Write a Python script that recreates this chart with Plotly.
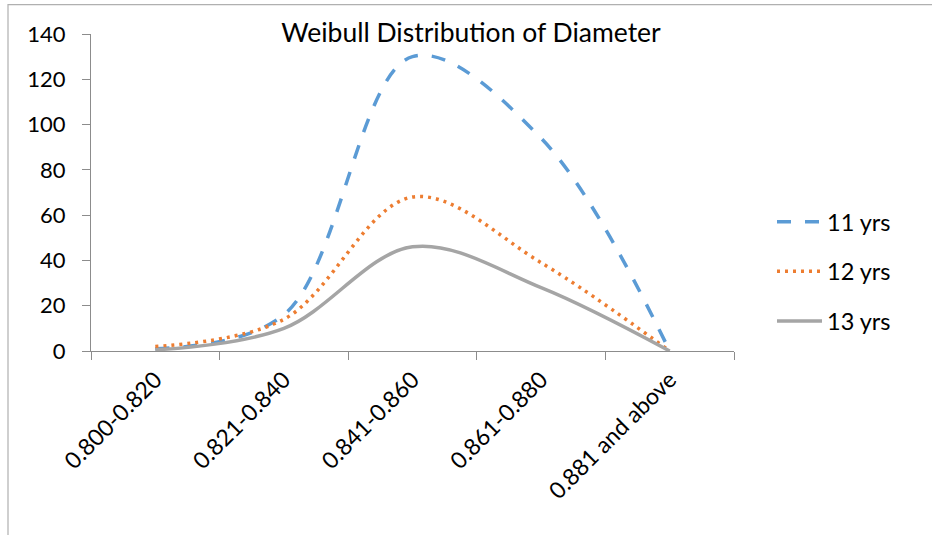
import plotly.graph_objects as go

categories = ["0.800-0.820", "0.821-0.840", "0.841-0.860", "0.861-0.880", "0.881 and above"]
series_names = ["11 yrs", "12 yrs", "13 yrs"]
yrs11 = [1, 16, 130, 94, 0]
yrs12 = [2, 14, 68, 39, 0]
yrs13 = [0.5, 10, 46, 28, 0]
y_ticks = [0, 20, 40, 60, 80, 100, 120, 140]

colors = ["#5B9BD5", "#ED7D31", "#A5A5A5"]
dashes = ["14px,14px", "3px,5px", "solid"]
FONT = "Lato"

W, H = 932, 535
L, R, T, B = 91, 734, 34, 351.5

fig = go.Figure()
for i, (name, vals) in enumerate(zip(series_names, [yrs11, yrs12, yrs13])):
    fig.add_trace(go.Scatter(
        x=categories, y=vals, name=name, mode="lines",
        line=dict(color=colors[i], width=3.5, dash=dashes[i], shape="spline", smoothing=1),
        legendgroup=name,
    ))

fig.update_layout(
    width=W, height=H,
    margin=dict(l=L, r=W - R, t=T, b=H - B, pad=0),
    paper_bgcolor="white", plot_bgcolor="white",
    font=dict(family=FONT, color="black", size=22),
    title=dict(text="Weibull Distribution of Diameter", font=dict(family=FONT, size=26.5, color="black"),
               xref="container", x=471 / W, xanchor="center",
               yref="container", y=1 - 33 / H, yanchor="middle"),
    showlegend=True,
    legend=dict(xref="container", yref="container", x=772 / W, y=1 - 200 / H,
                xanchor="left", yanchor="top", font=dict(size=23.5, family=FONT),
                tracegroupgap=16, itemwidth=45, bgcolor="rgba(0,0,0,0)"),
    xaxis=dict(type="category", range=[-0.5, 4.5], showline=True, linecolor="#8c8c8c", linewidth=1.3,
               ticks="outside", ticklen=8, tickcolor="#8c8c8c", tickson="boundaries",
               tickangle=-45, showgrid=False, zeroline=False, ticklabelstandoff=5,
               tickfont=dict(size=23, family=FONT)),
    yaxis=dict(range=[0, 140], tickvals=y_ticks, showline=True, linecolor="#8c8c8c", linewidth=1.3,
               ticks="outside", ticklen=8, tickcolor="#8c8c8c", showgrid=False, zeroline=False,
               ticklabelstandoff=12, tickfont=dict(size=22, family=FONT)),
    shapes=[dict(type="rect", xref="paper", yref="paper",
                 x0=(8 - L) / (R - L), x1=(945 - L) / (R - L),
                 y0=(B - 545) / (B - T), y1=1 + (T - 4.5) / (B - T),
                 line=dict(color="#b0b0b0", width=1.2), fillcolor="rgba(0,0,0,0)", layer="below")],
)

fig.write_html("out.html")
